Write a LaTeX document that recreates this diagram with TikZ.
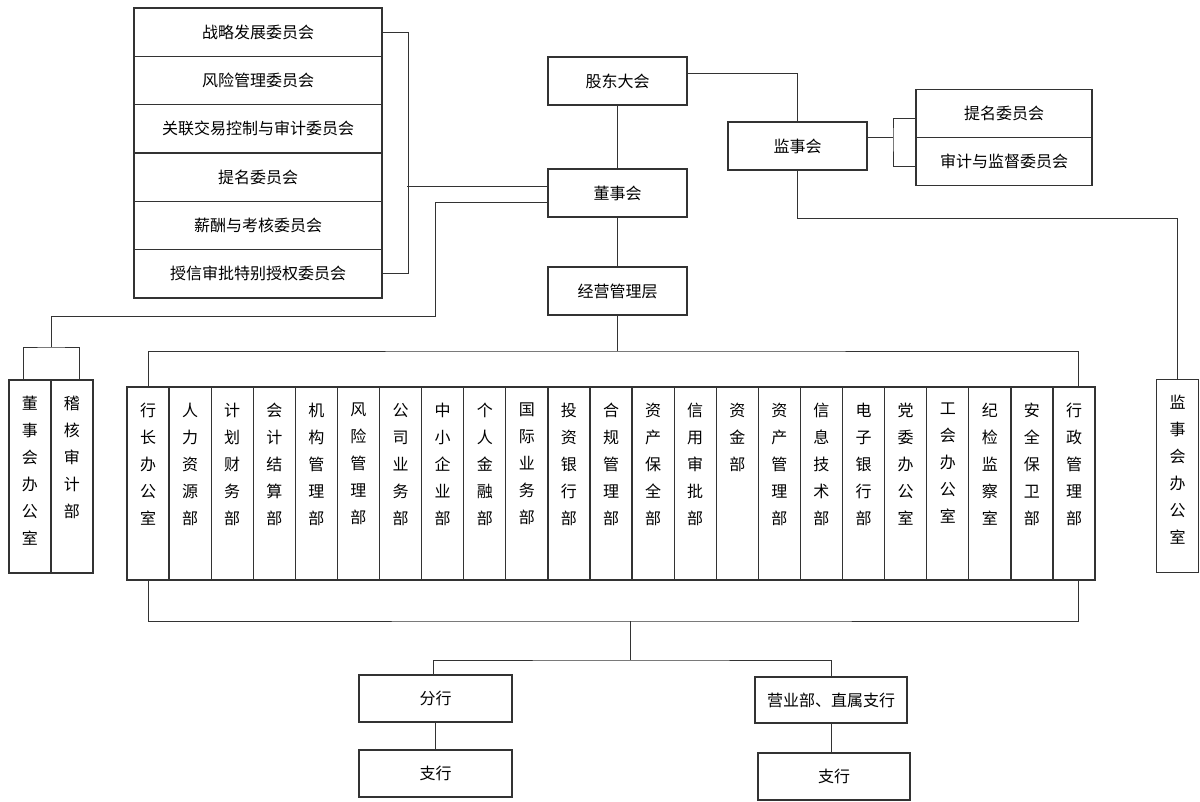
\documentclass[tikz,border=0pt]{standalone}
\usepackage{fontspec}
\newfontfamily\cjk{Noto Sans CJK SC}
% one character per line, for the narrow boxes
\def\chai#1{\ifx#1\relax\else#1\par\expandafter\chai\fi}
\newcommand{\shu}[1]{\parbox[c][193pt][t]{42pt}{\centering\vspace*{16pt}\expandafter\chai#1\relax}}
\begin{document}
\begin{tikzpicture}[x=1pt,y=-1pt,
    kuang/.style={draw=black!80,line width=1.2pt,inner sep=0pt,font=\cjk\fontsize{16}{27}\selectfont},
    shubox/.style={kuang,minimum width=42pt,minimum height=193pt},
    xian/.style={draw=black!80,line width=1pt}]
    \useasboundingbox (0,0) rectangle (1200,801);
    % committees of the board
    \foreach \t [count=\i] in {战略发展委员会,风险管理委员会,关联交易控制与审计委员会,提名委员会,薪酬与考核委员会,授信审批特别授权委员会}
        \node[kuang,minimum width=248pt,minimum height=48.33pt] (c\i) at (258,{-16.16+48.33*\i}) {\t};
    \node[kuang,minimum width=139pt,minimum height=48pt] (gd) at (617.5,81) {股东大会};
    \node[kuang,minimum width=139pt,minimum height=48pt] (dsh) at (617.5,193) {董事会};
    \node[kuang,minimum width=139pt,minimum height=48pt] (jy) at (617.5,291) {经营管理层};
    \node[kuang,minimum width=139pt,minimum height=48pt] (jsh) at (797.5,146) {监事会};
    \node[kuang,minimum width=176pt,minimum height=48.5pt] (tm) at (1004,113.5) {提名委员会};
    \node[kuang,minimum width=176pt,minimum height=48.5pt] (sj) at (1004,161.5) {审计与监督委员会};
    % offices
    \node[shubox] (dbo) at (30,476.5) {\shu{董事会办公室}};
    \node[shubox] (jhs) at (72,476.5) {\shu{稽核审计部}};
    \node[shubox] (jsof) at (1177.5,476) {\shu{监事会办公室}};
    % departments
    \foreach \t [count=\i] in {行长办公室,人力资源部,计划财务部,会计结算部,机构管理部,风险管理部,公司业务部,中小企业部,个人金融部,国际业务部,投资银行部,合规管理部,资产保全部,信用审批部,资金部,资产管理部,信息技术部,电子银行部,党委办公室,工会办公室,纪检监察室,安全保卫部,行政管理部}
        \node[shubox] (d\i) at ({127+42.09*(\i-0.5)},483.5) {\shu{\t}};
    % branches
    \node[kuang,minimum width=153pt,minimum height=47pt] (fh) at (435.5,698.5) {分行};
    \node[kuang,minimum width=153pt,minimum height=47pt] (zh1) at (435.5,773.5) {支行};
    \node[kuang,minimum width=152pt,minimum height=46pt] (yy) at (831,700) {营业部、直属支行};
    \node[kuang,minimum width=152pt,minimum height=47pt] (zh2) at (834,776.5) {支行};
    % board side
    \coordinate (cb) at (408,0);
    \draw[xian] (c1.east) -| (cb |- c6.east) -- (c6.east);
    \draw[xian] ([yshift=7pt]dsh.west) -- ++(-140,0);
    \coordinate (lb) at (51,347);
    \draw[xian] ([yshift=-9pt]dsh.west) -| (435,316) -| (lb);
    \draw[xian] ([xshift=-7pt]dbo.north) |- (lb) -| ([xshift=7pt]jhs.north);
    \draw[xian] (gd) -- (dsh) -- (jy);
    % supervisors
    \draw[xian] ([yshift=8pt]gd.east) -| (jsh.north);
    \coordinate (jb) at (893,137);
    \draw[xian] ([yshift=9pt]jsh.east) -- (jb);
    \draw[xian] ([yshift=-4.5pt]tm.west) -| (jb) |- ([yshift=-4.5pt]sj.west);
    \coordinate (rb) at (1177.5,218);
    \draw[xian] (jsh.south) |- (rb) -- (jsof.north);
    % management and departments
    \coordinate (tb) at (617.5,351);
    \draw[xian] (jy) -- (tb);
    \draw[xian] (d1.north) |- (tb) -| ([xshift=4pt]d23.north);
    \coordinate (bb) at (630,621);
    \coordinate (bm) at (630,660);
    \draw[xian] (d1.south) |- (bb) -| ([xshift=4pt]d23.south);
    \draw[xian] (bb) -- (bm);
    \draw[xian] ([xshift=-2pt]fh.north) |- (bm) -| (yy.north);
    \draw[xian] (fh) -- (zh1);
    \draw[xian] (yy.south) -- (yy.south |- zh2.north);
\end{tikzpicture}
\end{document}
